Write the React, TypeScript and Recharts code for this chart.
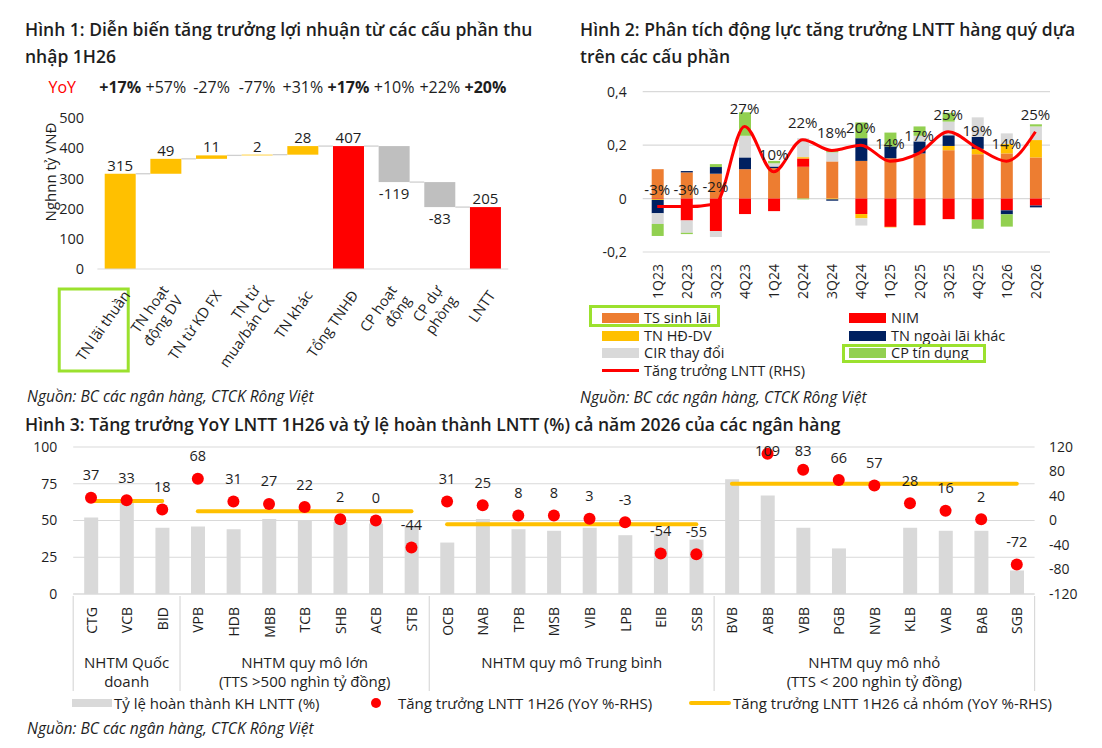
import React from 'react';
import { ComposedChart, Bar, Line, XAxis, YAxis, CartesianGrid, LabelList, Legend } from 'recharts';

const FONT = '"Open Sans", "Noto Sans", "DejaVu Sans", sans-serif';
const INK = '#1e1e1e';
const GRID = '#D9D9D9';
const LIME = '#9BE12E';

/* ---------------- Figure 1 : waterfall ---------------- */
const wfNames = ['TN lãi thuần', 'TN hoạt động DV', 'TN từ KD FX', 'TN từ mua/bán CK', 'TN khác', 'Tổng TNHĐ', 'CP hoạt động', 'CP dự phòng', 'LNTT'];
const wfTickLines = [['TN lãi thuần'], ['TN hoạt', 'động DV'], ['TN từ KD FX'], ['TN từ', 'mua/bán CK'], ['TN khác'], ['Tổng TNHĐ'], ['CP hoạt', 'động'], ['CP dự', 'phòng'], ['LNTT']];
const wfValues = [315.4, 49.4, 11.4, 2.4, 28.4, 407, -119.2, -82.8, 205];
const wfIsTotal = [false, false, false, false, false, true, false, false, true];
const wfYoY = ['+17%', '+57%', '-27%', '-77%', '+31%', '+17%', '+10%', '+22%', '+20%'];
const wfYoYBold = [true, false, false, false, false, true, false, false, true];
const wfTicks = [0, 100, 200, 300, 400, 500];

const wfData = (() => {
  let running = 0;
  return wfNames.map((name, i) => {
    const v = wfValues[i];
    let base: number;
    if (wfIsTotal[i]) {
      base = 0;
      running = v;
    } else if (v >= 0) {
      base = running;
      running += v;
    } else {
      running += v;
      base = running;
    }
    return { name, base, size: Math.abs(v), value: v, total: wfIsTotal[i], last: i === wfNames.length - 1 };
  });
})();

/* ---------------- Figure 2 : quarterly drivers ---------------- */
const quarters = ['1Q23', '2Q23', '3Q23', '4Q23', '1Q24', '2Q24', '3Q24', '4Q24', '1Q25', '2Q25', '3Q25', '4Q25', '1Q26', '2Q26'];
const tsSinhLai = [0.11, 0.098, 0.093, 0.11, 0.114, 0.119, 0.139, 0.141, 0.151, 0.169, 0.181, 0.166, 0.169, 0.154];
const nim = [-0.002, -0.082, -0.122, -0.058, -0.047, 0.031, 0, -0.058, -0.106, -0.1, -0.077, -0.079, -0.044, -0.026];
const tnHdDv = [-0.003, 0, 0, 0, 0, 0.005, -0.003, -0.016, -0.002, 0, 0.016, 0.02, 0.035, 0.065];
const tnNgoaiLai = [-0.05, 0.005, 0.025, 0.044, 0.006, 0, -0.005, 0.085, 0.044, 0.045, 0.04, 0.045, -0.015, -0.007];
const cirThayDoi = [-0.04, -0.046, -0.022, 0.081, 0.012, 0.071, 0.034, -0.027, 0, 0.021, 0.051, 0.073, 0.04, 0.051];
const cpTinDung = [-0.045, -0.005, 0.011, 0.088, 0.009, -0.003, 0.011, 0.059, 0.052, 0.035, 0.033, -0.034, -0.046, 0.008];
const lnttGrowth = [-0.03, -0.03, -0.02, 0.27, 0.1, 0.22, 0.18, 0.2, 0.14, 0.17, 0.25, 0.19, 0.14, 0.25];
const qTicks = [-0.2, 0, 0.2, 0.4];

const S_TS = 'TS sinh lãi';
const S_NIM = 'NIM';
const S_DV = 'TN HĐ-DV';
const S_NL = 'TN ngoài lãi khác';
const S_CIR = 'CIR thay đổi';
const S_CP = 'CP tín dụng';
const S_GR = 'Tăng trưởng LNTT (RHS)';

const C_ORANGE = '#ED7D31';
const C_RED = '#FF0000';
const C_YELLOW = '#FFC000';
const C_NAVY = '#002060';
const C_GRAY = '#D9D9D9';
const C_GREEN = '#92D050';

const qData = quarters.map((q, i) => ({
  q,
  ts: tsSinhLai[i],
  nim: nim[i],
  dv: tnHdDv[i],
  nl: tnNgoaiLai[i],
  cir: cirThayDoi[i],
  cp: cpTinDung[i],
  growth: lnttGrowth[i],
}));

/* ---------------- Figure 3 : banks ---------------- */
const banks = ['CTG', 'VCB', 'BID', 'VPB', 'HDB', 'MBB', 'TCB', 'SHB', 'ACB', 'STB', 'OCB', 'NAB', 'TPB', 'MSB', 'VIB', 'LPB', 'EIB', 'SSB', 'BVB', 'ABB', 'VBB', 'PGB', 'NVB', 'KLB', 'VAB', 'BAB', 'SGB'];
const groupSizes = [3, 7, 8, 9];
const groupLabels = [['NHTM Quốc', 'doanh'], ['NHTM quy mô lớn', '(TTS >500 nghìn tỷ đồng)'], ['NHTM quy mô Trung bình'], ['NHTM quy mô nhỏ', '(TTS < 200 nghìn tỷ đồng)']];
const groupGrowth = [32, 15, -6, 60];
const planCompletion = [52, 62, 45, 46, 44, 51, 50, 49, 48, 46, 35, 51, 44, 43, 45, 40, 41, 37, 78, 67, 45, 31, null, 45, 43, 43, 16];
const bankGrowth = [37, 33, 18, 68, 31, 27, 22, 2, 0, -44, 31, 25, 8, 8, 3, -3, -54, -55, null, 109, 83, 66, 57, 28, 16, 2, -72];
const leftTicks = [0, 25, 50, 75, 100];
const rightTicks = [-120, -80, -40, 0, 40, 80, 120];

const L_RATE = 'Tỷ lệ hoàn thành KH LNTT (%)';
const L_GROWTH = 'Tăng trưởng LNTT 1H26 (YoY %-RHS)';
const L_GROUP = 'Tăng trưởng LNTT 1H26 cả nhóm (YoY %-RHS)';

const bankGroupIdx: number[] = groupSizes.flatMap((s, g) => Array(s).fill(g));
const groupStart = groupSizes.map((_, g) => groupSizes.slice(0, g).reduce((a, b) => a + b, 0));

const bankData = banks.map((bank, i) => {
  const row: any = { bank, rate: planCompletion[i], growth: bankGrowth[i] };
  groupGrowth.forEach((v, g) => {
    row['g' + g] = bankGroupIdx[i] === g ? v : null;
  });
  return row;
});

const PLOT3_TOP = 17;

/* ---------------- renderers ---------------- */
const WaterfallShape = (props: any) => {
  const { x, y, width, height, payload } = props;
  const color = payload.total ? '#FF0000' : payload.value >= 0 ? '#FFC000' : '#BFBFBF';
  const endY = payload.value >= 0 ? y : y + height;
  const gap = (width * 0.32) / 0.68;
  return (
    <g>
      <rect x={x} y={y} width={width} height={height} fill={color} />
      {!payload.last && (
        <line x1={x + width} x2={x + width + gap} y1={endY} y2={endY} stroke="#CFCFCF" strokeWidth={1.3} />
      )}
    </g>
  );
};

const WfLabel = (p: any) => {
  const { x, y, width, height, value } = p;
  if (value === null || value === undefined) return null;
  const neg = value < 0;
  const ty = neg ? y + height + 11 : y - 9;
  return (
    <text x={x + width / 2} y={ty} textAnchor="middle" dominantBaseline="central" fontSize={15} fill={INK} fontFamily={FONT}>
      {Math.round(value)}
    </text>
  );
};

const YoYTick = (props: any) => {
  const { x, y, index } = props;
  const ty = y - 29;
  return (
    <g>
      {index === 0 && (
        <text x={x - 58} y={ty} textAnchor="middle" dominantBaseline="central" fontSize={16} fill="#FF0000" fontFamily={FONT} fontWeight={500}>
          YoY
        </text>
      )}
      <text x={x} y={ty} textAnchor="middle" dominantBaseline="central" fontSize={16} fill={INK} fontFamily={FONT} fontWeight={wfYoYBold[index] ? 700 : 400}>
        {wfYoY[index]}
      </text>
    </g>
  );
};

const WfTick = (props: any) => {
  const { x, y, index, payload } = props;
  const lines = wfTickLines[index] ?? [String(payload.value)];
  const n = lines.length;
  return (
    <g>
      {index === 0 && <rect x={x - 61} y={y + 18} width={69} height={82} fill="none" stroke={LIME} strokeWidth={3} />}
      <g transform={`translate(${x + 6},${y + 21}) rotate(-55)`}>
        {lines.map((l: string, i: number) => (
          <text key={i} x={0} y={(i - (n - 1) / 2) * 17.5} textAnchor="end" dominantBaseline="central" fontSize={14.5} fill={INK} fontFamily={FONT}>
            {l}
          </text>
        ))}
      </g>
    </g>
  );
};

const QuarterTick = (props: any) => {
  const { x, y, payload } = props;
  return (
    <text transform={`translate(${x},${y + 10}) rotate(-90)`} textAnchor="end" dominantBaseline="central" fontSize={14} fill={INK} fontFamily={FONT}>
      {payload.value}
    </text>
  );
};

const BankTick = (props: any) => {
  const { x, y, payload, index } = props;
  const half = payload && typeof payload.offset === 'number' && payload.offset > 0 ? payload.offset : 17.8;
  const g = bankGroupIdx[index];
  const isFirst = index === groupStart[g];
  const isLast = index === banks.length - 1;
  const size = groupSizes[g];
  return (
    <g>
      <text transform={`translate(${x},${y + 11}) rotate(-90)`} textAnchor="end" dominantBaseline="central" fontSize={14} fill={INK} fontFamily={FONT}>
        {payload.value}
      </text>
      {isFirst && <line x1={x - half} x2={x - half} y1={y} y2={y + 95} stroke={GRID} strokeWidth={1.2} />}
      {isLast && <line x1={x + half} x2={x + half} y1={y} y2={y + 95} stroke={GRID} strokeWidth={1.2} />}
      {isFirst &&
        groupLabels[g].map((l, i) => (
          <text key={i} x={x + (size - 1) * half} y={y + 66 + i * 19} textAnchor="middle" dominantBaseline="central" fontSize={15} fill={INK} fontFamily={FONT}>
            {l}
          </text>
        ))}
    </g>
  );
};

const DotLabel = (p: any) => {
  const { x, y, value } = p;
  if (value === null || value === undefined) return null;
  const ty = Math.max(y - 23, PLOT3_TOP + 3);
  return (
    <text x={x} y={ty} textAnchor="middle" dominantBaseline="central" fontSize={14.5} fill={INK} fontFamily={FONT}>
      {value}
    </text>
  );
};

const legendText: React.CSSProperties = {
  position: 'absolute',
  fontSize: 14.5,
  color: INK,
  fontFamily: FONT,
  whiteSpace: 'nowrap',
  lineHeight: '16px',
};

const Fig2Legend = () => {
  const col1 = [
    { name: S_TS, color: C_ORANGE, kind: 'rect' },
    { name: S_DV, color: C_YELLOW, kind: 'rect' },
    { name: S_CIR, color: C_GRAY, kind: 'rect' },
    { name: S_GR, color: C_RED, kind: 'line' },
  ];
  const col2 = [
    { name: S_NIM, color: C_RED, kind: 'rect' },
    { name: S_NL, color: C_NAVY, kind: 'rect' },
    { name: S_CP, color: C_GREEN, kind: 'rect' },
  ];
  const rows = [18, 35.5, 53, 70.5];
  const renderItem = (it: any, i: number, sx: number) => (
    <React.Fragment key={it.name}>
      <div
        style={{
          position: 'absolute',
          left: sx,
          top: it.kind === 'line' ? rows[i] - 1.5 : rows[i] - 5,
          width: 37,
          height: it.kind === 'line' ? 3 : 10,
          background: it.color,
        }}
      />
      <div style={{ ...legendText, left: sx + 42, top: rows[i] - 8 }}>{it.name}</div>
    </React.Fragment>
  );
  return (
    <div style={{ position: 'relative', width: 542, height: 90 }}>
      {col1.map((it, i) => renderItem(it, i, 42))}
      {col2.map((it, i) => renderItem(it, i, 289))}
      <div style={{ position: 'absolute', left: 28.5, top: 5, width: 131, height: 22, border: `3px solid ${LIME}`, boxSizing: 'border-box' }} />
      <div style={{ position: 'absolute', left: 282, top: 44, width: 144, height: 19, border: `3px solid ${LIME}`, boxSizing: 'border-box' }} />
    </div>
  );
};

const Fig3Legend = () => (
  <div style={{ position: 'relative', width: 1102, height: 24 }}>
    <div style={{ position: 'absolute', left: 72, top: 7, width: 40, height: 8, background: C_GRAY }} />
    <div style={{ ...legendText, fontSize: 15, left: 114, top: 3 }}>{L_RATE}</div>
    <div style={{ position: 'absolute', left: 371, top: 6, width: 10, height: 10, borderRadius: 5, background: C_RED }} />
    <div style={{ ...legendText, fontSize: 15, left: 398, top: 3 }}>{L_GROWTH}</div>
    <div style={{ position: 'absolute', left: 689, top: 9, width: 42, height: 4, borderRadius: 2, background: C_YELLOW }} />
    <div style={{ ...legendText, fontSize: 15, left: 733, top: 3 }}>{L_GROUP}</div>
  </div>
);

const titleStyle: React.CSSProperties = {
  position: 'absolute',
  fontSize: 17.5,
  fontWeight: 600,
  lineHeight: '27px',
  color: INK,
  whiteSpace: 'nowrap',
  fontFamily: FONT,
};

const sourceStyle: React.CSSProperties = {
  position: 'absolute',
  fontSize: 15.5,
  fontStyle: 'italic',
  color: INK,
  whiteSpace: 'nowrap',
  fontFamily: FONT,
  lineHeight: '20px',
};

const fmtComma = (v: number) => (v === 0 ? '0' : String(v).replace('.', ','));

export default function App() {
  return (
    <div style={{ position: 'absolute', left: 0, top: 0, width: 1102, height: 748, background: '#fff', overflow: 'hidden', fontFamily: FONT }}>
      <div style={{ ...titleStyle, left: 25, top: 16 }}>
        Hình 1: Diễn biến tăng trưởng lợi nhuận từ các cấu phần thu
        <br />
        nhập 1H26
      </div>
      <div style={{ ...titleStyle, left: 580, top: 16 }}>
        Hình 2: Phân tích động lực tăng trưởng LNTT hàng quý dựa
        <br />
        trên các cấu phần
      </div>
      <div style={{ ...titleStyle, left: 25, top: 411 }}>
        Hình 3: Tăng trưởng YoY LNTT 1H26 và tỷ lệ hoàn thành LNTT (%) cả năm 2026 của các ngân hàng
      </div>

      {/* Figure 1 */}
      <div style={{ position: 'absolute', left: 0, top: 60 }}>
        <ComposedChart width={540} height={320} data={wfData} margin={{ top: 0, right: 31.7, bottom: 0, left: 0 }} barCategoryGap="16%">
          <XAxis xAxisId="top" orientation="top" dataKey="name" height={58} axisLine={false} tickLine={false} tickSize={0} interval={0} tick={(p: any) => <YoYTick {...p} />} />
          <XAxis dataKey="name" height={111} axisLine={{ stroke: GRID }} tickLine={false} tickSize={0} interval={0} tick={(p: any) => <WfTick {...p} />} />
          <YAxis
            domain={[0, 500]}
            ticks={wfTicks}
            width={97.4}
            axisLine={false}
            tickLine={false}
            tickSize={0}
            tickMargin={13.4}
            tick={{ fontSize: 14.5, fill: INK, fontFamily: FONT }}
            label={{
              value: 'Nghnn tỷ VNĐ',
              content: () => (
                <text x={50} y={112} transform="rotate(-90 50 112)" textAnchor="middle" dominantBaseline="central" fontSize={15} fill={INK} fontFamily={FONT}>
                  Nghnn tỷ VNĐ
                </text>
              ),
            }}
          />
          <Bar dataKey="base" stackId="w" fill="transparent" isAnimationActive={false} />
          <Bar dataKey="size" stackId="w" shape={(p: any) => <WaterfallShape {...p} />} isAnimationActive={false}>
            <LabelList dataKey="value" content={(p: any) => <WfLabel {...p} />} />
          </Bar>
        </ComposedChart>
      </div>
      <div style={{ ...sourceStyle, left: 27, top: 386 }}>Nguồn: BC các ngân hàng, CTCK Rông Việt</div>

      {/* Figure 2 */}
      <div style={{ position: 'absolute', left: 560, top: 60 }}>
        <ComposedChart width={542} height={330} data={qData} stackOffset="sign" margin={{ top: 31.7, right: 52, bottom: 88, left: 0 }} barSize={12}>
          <CartesianGrid vertical={false} stroke={GRID} strokeWidth={1.2} />
          <XAxis dataKey="q" height={50} axisLine={false} tickLine={false} tickSize={0} interval={0} tick={(p: any) => <QuarterTick {...p} />} />
          <YAxis
            domain={[-0.2, 0.4]}
            ticks={qTicks}
            width={82.7}
            axisLine={false}
            tickLine={false}
            tickSize={0}
            tickMargin={16}
            tickFormatter={fmtComma}
            tick={{ fontSize: 14, fill: INK, fontFamily: FONT }}
          />
          <Bar dataKey="ts" name={S_TS} stackId="s" fill={C_ORANGE} isAnimationActive={false} />
          <Bar dataKey="nim" name={S_NIM} stackId="s" fill={C_RED} isAnimationActive={false} />
          <Bar dataKey="dv" name={S_DV} stackId="s" fill={C_YELLOW} isAnimationActive={false} />
          <Bar dataKey="nl" name={S_NL} stackId="s" fill={C_NAVY} isAnimationActive={false} />
          <Bar dataKey="cir" name={S_CIR} stackId="s" fill={C_GRAY} isAnimationActive={false} />
          <Bar dataKey="cp" name={S_CP} stackId="s" fill={C_GREEN} isAnimationActive={false} />
          <Line dataKey="growth" name={S_GR} type="monotone" stroke={C_RED} strokeWidth={3} dot={false} activeDot={false} isAnimationActive={false}>
            <LabelList
              dataKey="growth"
              position="top"
              offset={12}
              formatter={(v: any) => `${Math.round(Number(v) * 100)}%`}
              style={{ fontSize: 15, fill: INK, fontFamily: FONT }}
            />
          </Line>
          <Legend layout="horizontal" verticalAlign="middle" align="center" wrapperStyle={{ left: 0, top: 240, width: 542, height: 90 }} content={() => <Fig2Legend />} />
        </ComposedChart>
      </div>
      <div style={{ ...sourceStyle, left: 580, top: 387 }}>Nguồn: BC các ngân hàng, CTCK Rông Việt</div>

      {/* Figure 3 */}
      <div style={{ position: 'absolute', left: 0, top: 430 }}>
        <ComposedChart width={1102} height={318} data={bankData} margin={{ top: PLOT3_TOP, right: 0, bottom: 54, left: 0 }} barSize={14}>
          <CartesianGrid vertical={false} stroke={GRID} strokeWidth={1.2} yAxisId="left" />
          <XAxis dataKey="bank" height={100} axisLine={{ stroke: GRID }} tickLine={false} tickSize={0} interval={0} tick={(p: any) => <BankTick {...p} />} />
          <YAxis
            yAxisId="left"
            domain={[0, 100]}
            ticks={leftTicks}
            width={73.2}
            axisLine={false}
            tickLine={false}
            tickSize={0}
            tickMargin={16}
            tick={{ fontSize: 14, fill: INK, fontFamily: FONT }}
          />
          <YAxis
            yAxisId="right"
            orientation="right"
            domain={[-120, 120]}
            ticks={rightTicks}
            width={67.4}
            axisLine={false}
            tickLine={false}
            tickSize={0}
            tickMargin={14.5}
            tick={{ fontSize: 14, fill: INK, fontFamily: FONT }}
          />
          <Bar yAxisId="left" dataKey="rate" name={L_RATE} fill={C_GRAY} isAnimationActive={false} />
          {groupGrowth.map((_, g) => (
            <Line
              key={g}
              yAxisId="right"
              dataKey={'g' + g}
              name={L_GROUP}
              type="linear"
              stroke={C_YELLOW}
              strokeWidth={4}
              strokeLinecap="round"
              dot={false}
              activeDot={false}
              connectNulls={false}
              isAnimationActive={false}
            />
          ))}
          <Line
            yAxisId="right"
            dataKey="growth"
            name={L_GROWTH}
            stroke="none"
            strokeWidth={0}
            dot={{ r: 6, fill: C_RED, stroke: 'none' }}
            activeDot={false}
            isAnimationActive={false}
          >
            <LabelList dataKey="growth" content={(p: any) => <DotLabel {...p} />} />
          </Line>
          <Legend layout="horizontal" verticalAlign="middle" align="center" wrapperStyle={{ left: 0, top: 262, width: 1102, height: 24 }} content={() => <Fig3Legend />} />
        </ComposedChart>
      </div>
      <div style={{ ...sourceStyle, left: 27, top: 718 }}>Nguồn: BC các ngân hàng, CTCK Rông Việt</div>
    </div>
  );
}
